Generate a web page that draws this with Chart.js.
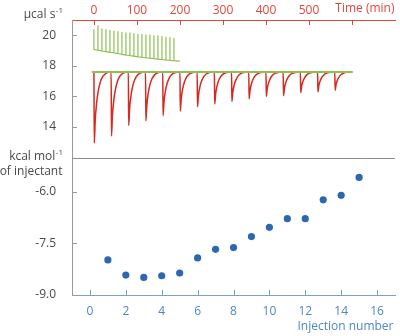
<!DOCTYPE html>
<html>
<head>
<meta charset="utf-8">
<script src="https://cdn.jsdelivr.net/npm/chart.js@4"></script>
<style>
  html, body { margin: 0; padding: 0; background: #fff; }
  #wrap { width: 400px; height: 336px; }
</style>
</head>
<body>
<div id="wrap"><canvas id="itc" width="400" height="336"></canvas></div>
<script>
// --- upper panel: raw heat rate (µcal/s) against time (min) ---
const injectionTimes = [0, 40, 80, 120, 160, 200, 240, 280, 320, 360, 400, 440, 480, 520, 560];
const peakMinimum = [12.95, 13.4, 14.1, 14.4, 14.75, 15.05, 15.33, 15.5, 15.67, 15.84, 16.0, 16.05, 16.24, 16.3, 16.4];
const sampleBaseline = 17.6;
const sampleEnd = 600;
// peak shape: minutes after injection / share of the depth still left
const peakShapeMinutes = [0, 0.8, 3, 6, 10, 15, 21, 28, 36];
const peakShapeShare = [0, 1, 0.68, 0.45, 0.27, 0.14, 0.06, 0.02, 0];

// flat green line under the red trace
const flatLineTimes = [-5, 602];

// upper green trace (short, fast injections)
const refTimes = [0, 9.3, 18.6, 27.9, 37.2, 46.5, 55.8, 65.1, 74.4, 83.7, 93, 102.3, 111.6, 120.9, 130.2, 139.5, 148.8, 158.1, 167.4, 176.7, 186];
const refBase = [19.07, 19.02, 18.97, 18.93, 18.89, 18.85, 18.8, 18.75, 18.71, 18.67, 18.63, 18.59, 18.56, 18.53, 18.5, 18.47, 18.44, 18.41, 18.38, 18.36, 18.34];
const refTop = [20.39, 20.66, 20.44, 20.39, 20.35, 20.31, 20.26, 20.22, 20.18, 20.18, 20.13, 20.09, 20.09, 20.05, 20.05, 20.0, 20.0, 19.95, 19.91, 19.87, 19.82];
const refEnd = { t: 200, base: 18.31 };

const timeTicks = [0, 100, 200, 300, 400, 500, 600];
const timeLabels = ["0", "100", "200", "300", "400", "500", ""];
const powerTicks = [14, 16, 18, 20];

// --- lower panel: integrated heats ---
const injectionNumber = [1, 2, 3, 4, 5, 6, 7, 8, 9, 10, 11, 12, 13, 14, 15];
const heatPerMole = [-7.98, -8.42, -8.49, -8.44, -8.36, -7.92, -7.67, -7.62, -7.3, -7.03, -6.78, -6.78, -6.23, -6.1, -5.58];
const injectionTicks = [0, 2, 4, 6, 8, 10, 12, 14, 16];
const enthalpyTicks = [-9, -7.5, -6];

const red = "#d8281f";
const redText = "#e2463b";
const green = "#8cc152";
const blue = "#2d67b0";
const blueText = "#4f86c6";
const blueAxis = "#7a9fd0";
const grey = "#999999";
const textGrey = "#4a4a4a";
const font = { family: "'Open Sans', sans-serif", size: 12 };

const sampleTrace = [];
injectionTimes.forEach((t0, i) => {
  const depth = sampleBaseline - peakMinimum[i];
  peakShapeMinutes.forEach((m, k) => {
    sampleTrace.push({ x: t0 + m, y: sampleBaseline - depth * peakShapeShare[k] });
  });
});
sampleTrace.push({ x: sampleEnd, y: sampleBaseline });

const refTrace = [];
refTimes.forEach((t, i) => {
  refTrace.push({ x: t, y: refBase[i] }, { x: t, y: refTop[i] }, { x: t, y: refBase[i] });
});
refTrace.push({ x: refEnd.t, y: refEnd.base });

const setTicks = (values) => (scale) => {
  scale.ticks = values.map((v) => ({ value: v }));
};

// inward tick marks, panel divider and the free axis captions
const frame = {
  id: "frame",
  afterDraw(chart) {
    const { ctx, chartArea: area, scales } = chart;
    ctx.save();
    ctx.lineWidth = 1;

    ctx.strokeStyle = "#8c8c8c";
    const yDiv = Math.round(scales.enthalpy.top) + 0.5;
    ctx.beginPath();
    ctx.moveTo(area.left, yDiv);
    ctx.lineTo(area.right, yDiv);
    ctx.stroke();

    ctx.strokeStyle = redText;
    scales.time.ticks.forEach((t) => {
      const x = Math.round(scales.time.getPixelForValue(t.value)) + 0.5;
      ctx.beginPath();
      ctx.moveTo(x, area.top);
      ctx.lineTo(x, area.top + 5);
      ctx.stroke();
    });

    ctx.strokeStyle = blueAxis;
    scales.inj.ticks.forEach((t) => {
      const x = Math.round(scales.inj.getPixelForValue(t.value)) + 0.5;
      ctx.beginPath();
      ctx.moveTo(x, area.bottom);
      ctx.lineTo(x, area.bottom - 5);
      ctx.stroke();
    });

    ctx.strokeStyle = grey;
    [scales.power, scales.enthalpy].forEach((s) => {
      s.ticks.forEach((t) => {
        const y = Math.round(s.getPixelForValue(t.value)) + 0.5;
        ctx.beginPath();
        ctx.moveTo(area.left, y);
        ctx.lineTo(area.left + 5, y);
        ctx.stroke();
      });
    });

    const unit = (main, sup, right, y, color) => {
      ctx.fillStyle = color;
      ctx.textBaseline = "middle";
      ctx.textAlign = "right";
      ctx.font = "8px 'Open Sans', sans-serif";
      const w = sup ? ctx.measureText(sup).width : 0;
      if (sup) ctx.fillText(sup, right, y - 4);
      ctx.font = "12px 'Open Sans', sans-serif";
      ctx.fillText(main, right - w - 0.5, y);
    };
    unit("µcal s", "-1", 63, 15, textGrey);
    unit("kcal mol", "-1", 63, 157, textGrey);
    unit("of injectant", "", 63, 172, textGrey);
    unit("Time (min)", "", 395, 9, redText);
    unit("Injection number", "", 394, 327, blueText);
    ctx.restore();
  }
};

new Chart(document.getElementById("itc"), {
  type: "line",
  data: {
    datasets: [
      {
        data: flatLineTimes.map((t) => ({ x: t, y: sampleBaseline })),
        xAxisID: "time", yAxisID: "power",
        borderColor: green, borderWidth: 2, pointRadius: 0, tension: 0
      },
      {
        data: sampleTrace,
        xAxisID: "time", yAxisID: "power",
        borderColor: red, borderWidth: 1.5, pointRadius: 0,
        cubicInterpolationMode: "monotone"
      },
      {
        data: refTrace,
        xAxisID: "time", yAxisID: "power",
        borderColor: green, borderWidth: 1.2, pointRadius: 0, tension: 0
      },
      {
        data: injectionNumber.map((n, i) => ({ x: n, y: heatPerMole[i] })),
        xAxisID: "inj", yAxisID: "enthalpy",
        showLine: false, pointRadius: 3.6, pointBackgroundColor: blue,
        pointBorderWidth: 0, borderColor: blue
      }
    ]
  },
  options: {
    responsive: false,
    animation: false,
    devicePixelRatio: 1,
    layout: { padding: { left: 0, right: 5, top: 0, bottom: 0 } },
    plugins: { legend: { display: false }, tooltip: { enabled: false } },
    scales: {
      time: {
        type: "linear", position: "top", min: -51, max: 700,
        grid: { display: false },
        border: { color: redText },
        ticks: { color: redText, font, padding: -6, maxRotation: 0, callback: (v, i) => timeLabels[i] },
        afterBuildTicks: setTicks(timeTicks),
        afterFit: (s) => { s.height = 20; }
      },
      inj: {
        type: "linear", position: "bottom", min: -1, max: 17,
        grid: { display: false },
        border: { color: blueAxis },
        ticks: { color: blueText, font, padding: 1, maxRotation: 0 },
        afterBuildTicks: setTicks(injectionTicks),
        afterFit: (s) => { s.height = 41; }
      },
      enthalpy: {
        type: "linear", position: "left", stack: "panels", stackWeight: 1, min: -9, max: -5,
        grid: { display: false },
        border: { color: grey },
        ticks: { color: textGrey, font, padding: 8, callback: (v) => v.toFixed(1) },
        afterBuildTicks: setTicks(enthalpyTicks),
        afterFit: (s) => { s.width = 72; }
      },
      power: {
        type: "linear", position: "left", stack: "panels", stackWeight: 1, min: 12, max: 21,
        grid: { display: false },
        border: { color: grey },
        ticks: { color: textGrey, font, padding: 8 },
        afterBuildTicks: setTicks(powerTicks),
        afterFit: (s) => { s.width = 72; }
      }
    }
  },
  plugins: [frame]
});
</script>
</body>
</html>
